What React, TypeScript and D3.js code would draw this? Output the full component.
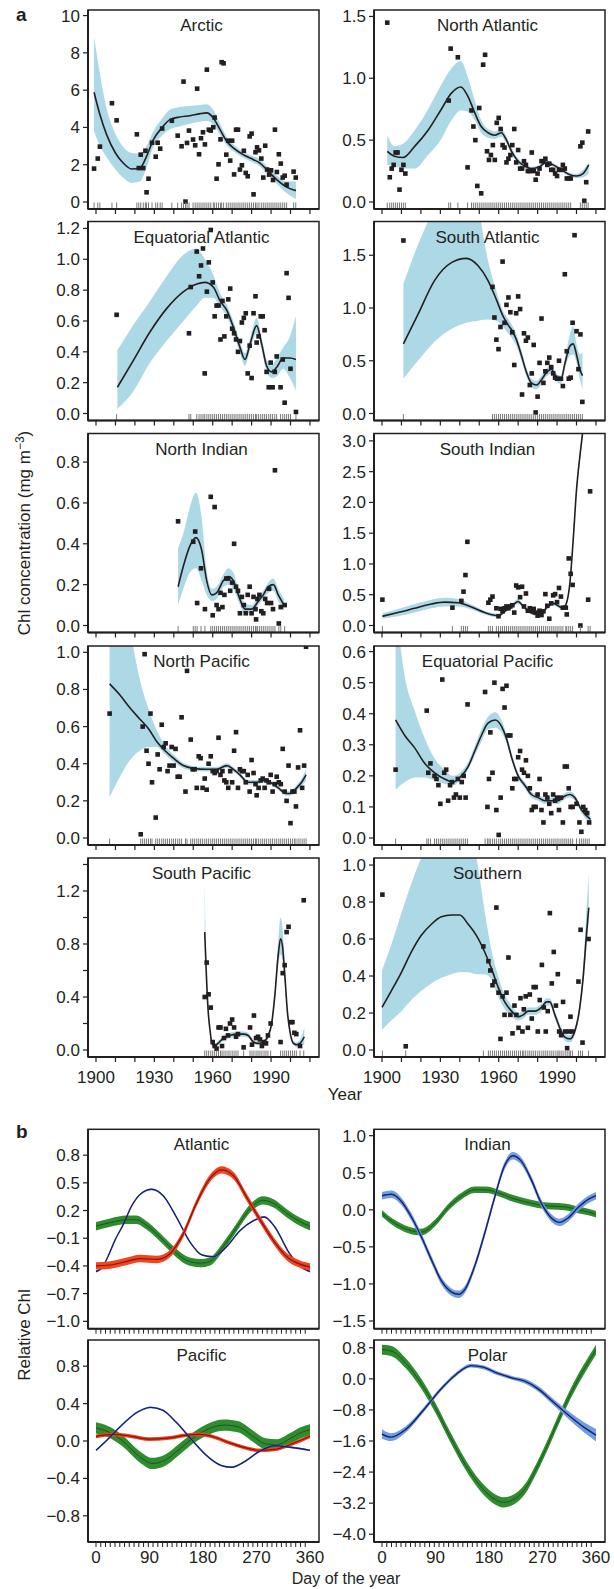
import React from 'react';
import * as d3 from 'd3';

const FONT = '"Liberation Sans", Arial, Helvetica, sans-serif';
const INK = '#231f20';
const BAND = '#add8e6';

// ---------- panel a: observed points [year, chl] ----------
const arcticPts = [[1899,1.79],[1900.9,2.33],[1902,2.97],[1908.2,5.3],[1910.6,4.38],[1921,3.63],[1922,1.82],[1923,2.54],[1924.3,1.82],[1925.4,2.75],[1926,0.52],[1927,1.25],[1928.8,3.18],[1930.7,2.43],[1931.7,3.18],[1933,2.86],[1934,3.94],[1939,4.36],[1942,3.56],[1944,2.99],[1945,6.46],[1946,0.02],[1946.8,3.17],[1947.8,3.83],[1949.9,3.35],[1951,3.04],[1952,6.08],[1953,2.56],[1954,3.42],[1955,3.74],[1956,3.09],[1957,7.1],[1958,3.88],[1959,3.83],[1960.3,4.01],[1961,4.53],[1962,1.25],[1963,2.02],[1964,3.36],[1964.6,7.5],[1965.6,7.44],[1967,2.54],[1968,3.29],[1969,2.22],[1970,3.29],[1971,1.48],[1972,3.88],[1973,3.88],[1974,1.74],[1975,1.97],[1976,2.75],[1977,1.56],[1978,1.38],[1979,3.52],[1980,3.67],[1981,0.41],[1982,2.67],[1982.8,2.93],[1983.8,2.77],[1985,2.33],[1986,1.31],[1987,3.02],[1988,1.74],[1989,1.47],[1990,1.7],[1991,1.18],[1992,3.88],[1993,1.61],[1994,2.56],[1995,2.06],[1996,1.31],[1997,1.41],[1998,0.93],[2001.6,1.63],[2002.7,1.31]];
const nAtlPts = [[1902.7,1.45],[1904,0.2],[1905,0.27],[1906,0.3],[1907,0.4],[1908,0.4],[1909,0.1],[1910,0.26],[1911,0.3],[1912,0.23],[1934.3,0.82],[1935.3,1.24],[1939,1.17],[1944,0.28],[1946,0.74],[1947,0.61],[1948,0.5],[1949,0.13],[1950,0.76],[1951,0.07],[1952,1.11],[1953,1.19],[1954,0.41],[1955,0.34],[1956,0.38],[1957,0.46],[1958,0.34],[1959,0.64],[1960,0.68],[1961,0.59],[1962,0.46],[1963,0.44],[1964,0.32],[1965,0.35],[1966,0.38],[1967,0.46],[1968,0.59],[1969,0.32],[1970,0.42],[1971,0.27],[1972,0.27],[1973,0.33],[1974,0.3],[1975,0.25],[1976,0.25],[1977,0.4],[1978,0.25],[1979,0.18],[1980,0.23],[1981,0.27],[1982,0.33],[1983,0.33],[1984,0.35],[1985,0.3],[1986,0.31],[1987,0.26],[1988,0.26],[1989,0.23],[1990,0.21],[1991,0.26],[1992,0.26],[1993,0.3],[1994,0.27],[1995,0.19],[1996,0.19],[1997,0.19],[2002,0.45],[2003,0.48],[2004,0.01],[2005,0.16],[2006,0.57]];
const eqAtlPts = [[1910.6,0.64],[1947.8,0.52],[1948.7,0.82],[1951.8,1.05],[1953,0.89],[1954,0.96],[1955,1.07],[1955.9,0.26],[1957,0.79],[1958,0.98],[1959,1.19],[1960,0.85],[1961,0.63],[1962,0.7],[1963,0.7],[1964,0.48],[1965,0.73],[1966,0.5],[1967,0.63],[1968,0.74],[1969,0.81],[1970,0.55],[1971,0.52],[1972,0.48],[1973,0.4],[1974,0.47],[1975,0.59],[1976,0.62],[1977,0.65],[1978,0.26],[1979,0.44],[1980,0.23],[1981,0.65],[1982,0.76],[1982.6,0.46],[1983.6,0.5],[1984.7,0.63],[1985.7,0.63],[1986.7,0.54],[1987.7,0.27],[1988.8,0.17],[1989.8,0.33],[1990.8,0.17],[1991.9,0.27],[1992.9,0.37],[1994.9,0.17],[1996,0.35],[1997,0.07],[1998,0.91],[1999,0.75],[2000,0.29],[2002.8,0.01]];
const sAtlPts = [[1911,1.64],[1956.8,1.2],[1957.8,0.91],[1958.8,0.7],[1959.9,0.61],[1960.9,0.82],[1962,1.44],[1963,0.86],[1964,1.03],[1965,1.1],[1966,0.96],[1967,0.77],[1968,0.46],[1969,0.95],[1970,1.11],[1971,0.99],[1972,0.18],[1973,0.76],[1974,0.69],[1975,0.72],[1976,0.27],[1977,0.38],[1978,0.65],[1979,0.01],[1980,0.16],[1981,0.48],[1982,0.9],[1983,0.29],[1984,0.4],[1985,0.48],[1986,0.53],[1987,0.44],[1988,0.38],[1989,0.34],[1990,0.33],[1991,0.5],[1992,0.33],[1993,0.26],[1994,1.32],[1995,0.59],[1996,0.33],[1997,0.34],[1998,0.86],[1999,1.69],[2000,0.78],[2001,0.42],[2002,0.75],[2003,0.11]];
const nIndPts = [[1942.2,0.51],[1950,0.41],[1951,0.46],[1952,0.11],[1954,0.28],[1956,0.08],[1959,0.63],[1960,0.05],[1961,0.58],[1962,0.1],[1963,0.08],[1964,0.16],[1965,0.09],[1966,0.15],[1967,0.23],[1968,0.23],[1969,0.17],[1970,0.21],[1971,0.4],[1972,0.19],[1973,0.17],[1974,0.06],[1975,0.14],[1976,0.1],[1977,0.06],[1978,0.15],[1979,0.19],[1980,0.06],[1981,0.14],[1982,0.08],[1982.3,0.03],[1983,0.13],[1984,0.15],[1985,0.07],[1986,0.06],[1987,0.13],[1988,0.11],[1989,0.18],[1990,0.11],[1991,0.08],[1992,0.76],[1994,0.01],[1995,0.09],[1997,0.1]];
const sIndPts = [[1900.2,0.42],[1936.2,0.29],[1940.8,0.4],[1941.9,0.55],[1942.9,0.82],[1943.9,1.36],[1954.7,0.37],[1955.7,0.42],[1956.8,0.47],[1958.8,0.28],[1959.9,0.15],[1961,0.27],[1962,0.23],[1963,0.28],[1964,0.31],[1965,0.28],[1966,0.31],[1967,0.33],[1968,0.21],[1969,0.65],[1970,0.62],[1971,0.46],[1972,0.63],[1973,0.31],[1974,0.52],[1975,0.24],[1976,0.28],[1977,0.24],[1978,0.27],[1979,0.21],[1980,0.16],[1981,0.24],[1982,0.17],[1983,0.23],[1984,0.51],[1985,0.32],[1986,0.11],[1987,0.36],[1988,0.49],[1989,0.51],[1990,0.38],[1991,0.61],[1992,0.47],[1993,0.29],[1994.5,0.29],[1995,0.18],[1996,1.09],[1997,0.84],[1998,0.66],[2002,0.0],[2006,0.42],[2007,2.18]];
const nPacPts = [[1907,0.67],[1923,0.02],[1924,0.6],[1925,0.99],[1926,0.47],[1927,0.4],[1928,0.67],[1928.8,0.3],[1930.7,0.11],[1931.7,0.45],[1932.7,0.37],[1933.8,0.61],[1934.8,0.49],[1935.8,0.51],[1936.8,0.36],[1937.8,0.39],[1938.9,0.49],[1939.9,0.39],[1940.9,0.48],[1942,0.33],[1943,0.33],[1944,0.65],[1946,0.25],[1946.8,0.9],[1948.7,0.53],[1949.7,0.37],[1950.7,0.37],[1951.8,0.27],[1952.8,0.44],[1953.8,0.43],[1954.8,0.27],[1955.9,0.32],[1956.9,0.26],[1957.9,0.4],[1959,0.44],[1960,0.36],[1961,0.35],[1962,0.36],[1963,0.54],[1964,0.34],[1965,0.36],[1966,0.31],[1967,0.3],[1968,0.27],[1969,0.36],[1970,0.3],[1971,0.47],[1972,0.57],[1973,0.27],[1974,0.37],[1975,0.36],[1976,0.36],[1977,0.3],[1978,0.34],[1979,0.25],[1980,0.42],[1981,0.35],[1982,0.29],[1982.6,0.23],[1983.6,0.27],[1984.7,0.31],[1985.7,0.32],[1986.7,0.27],[1987.7,0.31],[1988.8,0.3],[1989.8,0.34],[1990.8,0.25],[1991.9,0.29],[1992.9,0.33],[1994,0.3],[1995,0.29],[1996,0.48],[1997,0.25],[1998,0.2],[1999,0.39],[2000,0.08],[2001,0.25],[2002,0.25],[2002.8,0.17],[2003.9,0.38],[2004.9,0.58],[2006,0.27],[2007,0.39],[2008,1.03]];
const eqPacPts = [[1907,0.22],[1923,0.41],[1923.8,0.21],[1924.9,0.24],[1927,0.2],[1928,0.19],[1929,0.17],[1930,0.11],[1931,0.51],[1932,0.21],[1933,0.22],[1934,0.12],[1935,0.17],[1936,0.18],[1937,0.13],[1938,0.14],[1939,0.19],[1940,0.13],[1941,0.18],[1942,0.2],[1943,0.13],[1944,0.43],[1953,0.47],[1954.2,0.1],[1955,0.19],[1955.7,0.34],[1956.8,0.21],[1957.8,0.5],[1958.8,0.09],[1960,0.01],[1961,0.13],[1962,0.48],[1963,0.42],[1964,0.49],[1965,0.33],[1966,0.33],[1967,0.16],[1968,0.19],[1969,0.19],[1970,0.26],[1971,0.28],[1972,0.22],[1973,0.21],[1974,0.25],[1975,0.2],[1976,0.16],[1977,0.09],[1978,0.1],[1979,0.1],[1980,0.14],[1981,0.19],[1982,0.09],[1983,0.05],[1984,0.14],[1985,0.13],[1986,0.11],[1987,0.08],[1988,0.14],[1989,0.12],[1990,0.13],[1991,0.09],[1992,0.13],[1993,0.05],[1994,0.23],[1995,0.23],[1996,0.16],[1997,0.1],[1998,0.1],[2000,0.11],[2001.5,0.05],[2002.5,0.02],[2003.5,0.1],[2004.5,0.09],[2005.5,0.08],[2006.5,0.05]];
const sPacPts = [[1955.9,0.4],[1956.9,0.66],[1957.9,0.42],[1959,0.32],[1960,0.06],[1961,0.03],[1962,0.01],[1963,0.17],[1964,0.17],[1964.8,0.03],[1965.8,0.09],[1966.8,0.16],[1967.9,0.11],[1968.9,0.2],[1970,0.23],[1971,0.17],[1972,0.1],[1973,0.12],[1975.9,0.02],[1979.2,0.17],[1980.2,0.04],[1981.2,0.26],[1982.3,0.09],[1983.3,0.1],[1984.3,0.08],[1985.3,0.03],[1986.4,0.06],[1987.4,0.05],[1988.4,0.11],[1989.8,0.2],[1994.9,0.06],[1996,0.58],[1997,0.64],[1998,0.89],[1999,0.93],[2000,0.21],[2001,0.21],[2002,0.13],[2003,0.12],[2004.9,0.03],[2006.8,1.13]];
const southernPts = [[1900.2,0.84],[1912.2,0.02],[1952.1,0.56],[1954.7,0.48],[1955.7,0.43],[1956.8,0.35],[1957.8,0.37],[1958.8,0.77],[1959.9,0.31],[1960.9,0.06],[1962,0.29],[1963,0.19],[1964,0.31],[1965,0.5],[1966,0.19],[1967.1,0.09],[1968.1,0.24],[1969.1,0.19],[1970.2,0.12],[1971.2,0.28],[1972.2,0.1],[1972.9,0.22],[1973.9,0.29],[1975,0.12],[1976,0.3],[1977,0.17],[1978,0.34],[1979,0.34],[1980.1,0.1],[1981.1,0.27],[1982.2,0.46],[1983.2,0.23],[1984.2,0.1],[1985.2,0.21],[1986.3,0.74],[1987.3,0.36],[1988.3,0.53],[1989.4,0.24],[1990.4,0.41],[1991.1,0.1],[1992.1,0.08],[1993.1,0.26],[1994.2,0.1],[1995.2,0.01],[1996.2,0.1],[1996.9,0.18],[1997.9,0.1],[2001,0.37],[2002.1,0.65],[2003.1,0.04],[2006.2,0.6]];

// ---------- panel a: smooth fit [year, fit, lower, upper] ----------
const arcticFit = [[1899,5.89,3.79,8.86],[1902,4.69,3.0,6.9],[1905.5,3.6,2.4,5.0],[1910,2.63,1.75,3.65],[1914,2.09,1.3,2.95],[1918.3,1.77,1.02,2.63],[1922.6,1.82,1.1,2.6],[1926,2.45,1.85,3.0],[1929.5,3.35,2.95,3.8],[1933.8,3.97,3.55,4.45],[1938,4.42,3.9,4.95],[1943,4.56,4.05,5.1],[1948.3,4.63,4.2,5.15],[1953.5,4.74,4.3,5.2],[1957,4.78,4.35,5.25],[1960.3,4.51,4.15,4.95],[1963.8,3.88,3.6,4.2],[1967.2,3.26,3.05,3.5],[1970.6,2.9,2.72,3.1],[1975.7,2.54,2.38,2.7],[1981,2.27,2.1,2.45],[1984.3,2.09,1.9,2.3],[1987.7,1.74,1.55,1.95],[1992.9,1.2,0.98,1.42],[1998,0.8,0.48,1.1],[2002.8,0.61,0.15,1.1]];
const nAtlFit = [[1902.7,0.41,0.3,0.54],[1906.5,0.37,0.29,0.45],[1910.8,0.36,0.27,0.47],[1916.8,0.45,0.27,0.58],[1923.7,0.58,0.38,0.75],[1930.5,0.75,0.51,0.95],[1935.7,0.88,0.66,1.08],[1940.5,0.93,0.74,1.14],[1944.3,0.85,0.73,1.0],[1947.7,0.72,0.66,0.82],[1951,0.61,0.56,0.66],[1954.5,0.56,0.52,0.59],[1958,0.54,0.51,0.57],[1961.4,0.56,0.53,0.59],[1964,0.5,0.47,0.53],[1966.6,0.41,0.39,0.44],[1970,0.33,0.31,0.35],[1973.4,0.29,0.27,0.31],[1976.8,0.27,0.255,0.285],[1980.3,0.28,0.265,0.295],[1984.6,0.32,0.305,0.335],[1988,0.3,0.285,0.315],[1992.3,0.26,0.245,0.275],[1996.6,0.22,0.205,0.235],[2000,0.21,0.195,0.228],[2003.4,0.23,0.2,0.26],[2006.3,0.3,0.23,0.32]];
const eqAtlFit = [[1911,0.17,0.03,0.41],[1919,0.34,0.14,0.57],[1927.8,0.53,0.33,0.73],[1936.3,0.68,0.47,0.89],[1945,0.79,0.6,1.03],[1951.8,0.84,0.7,1.07],[1956,0.85,0.75,1.0],[1960.3,0.82,0.75,0.9],[1963.8,0.73,0.69,0.78],[1967.2,0.67,0.63,0.71],[1970.6,0.56,0.52,0.6],[1974,0.43,0.39,0.47],[1976.6,0.35,0.31,0.39],[1979.2,0.45,0.41,0.49],[1982.6,0.57,0.52,0.62],[1985.2,0.45,0.41,0.49],[1987.7,0.31,0.27,0.35],[1990.3,0.27,0.23,0.31],[1992.9,0.3,0.24,0.36],[1996.3,0.36,0.29,0.43],[1999.7,0.36,0.23,0.5],[2002.8,0.35,0.15,0.63]];
const sAtlFit = [[1911,0.66,0.33,1.23],[1918.5,0.94,0.5,1.6],[1927,1.26,0.68,1.95],[1935.7,1.43,0.8,2.25],[1943.4,1.47,0.86,2.3],[1949.4,1.4,0.88,1.95],[1954.5,1.26,0.89,1.45],[1958.8,1.08,0.88,1.16],[1962.3,0.92,0.82,0.97],[1964.8,0.84,0.76,0.9],[1967.4,0.77,0.7,0.82],[1969.1,0.7,0.64,0.75],[1971.7,0.55,0.5,0.6],[1974.3,0.39,0.35,0.43],[1976.8,0.29,0.25,0.33],[1979.4,0.27,0.23,0.31],[1982,0.32,0.28,0.36],[1984.6,0.39,0.35,0.43],[1987.1,0.42,0.38,0.46],[1989.7,0.34,0.3,0.38],[1992,0.32,0.28,0.36],[1994,0.47,0.42,0.52],[1996.6,0.64,0.55,0.75],[1998.3,0.66,0.56,0.83],[2000,0.56,0.48,0.66],[2001.7,0.42,0.33,0.56],[2003.1,0.36,0.23,0.58]];
const nIndFit = [[1942.2,0.19,0.1,0.38],[1944.9,0.29,0.18,0.45],[1948.3,0.39,0.26,0.58],[1951.4,0.43,0.28,0.65],[1954.3,0.37,0.22,0.53],[1956.9,0.22,0.15,0.27],[1959.5,0.15,0.12,0.18],[1962,0.16,0.13,0.19],[1965.5,0.22,0.19,0.25],[1968,0.24,0.2,0.28],[1970.6,0.22,0.18,0.26],[1973.2,0.15,0.12,0.18],[1976.6,0.08,0.06,0.11],[1980,0.08,0.06,0.1],[1983.5,0.12,0.1,0.14],[1986,0.15,0.13,0.17],[1988.6,0.19,0.16,0.21],[1991.2,0.2,0.17,0.23],[1993.7,0.15,0.12,0.18],[1996.7,0.1,0.07,0.13]];
const sIndFit = [[1900.2,0.15,0.11,0.2],[1908.2,0.21,0.15,0.27],[1916.8,0.28,0.21,0.35],[1925.4,0.35,0.28,0.42],[1932.2,0.38,0.31,0.45],[1939.1,0.37,0.31,0.43],[1946,0.3,0.26,0.34],[1952.8,0.21,0.18,0.24],[1959.7,0.16,0.13,0.19],[1963.1,0.23,0.2,0.26],[1966.6,0.31,0.28,0.34],[1970,0.39,0.35,0.43],[1972.6,0.31,0.28,0.34],[1975.1,0.24,0.21,0.27],[1978.6,0.19,0.16,0.22],[1982,0.21,0.18,0.24],[1985.4,0.31,0.28,0.34],[1988,0.36,0.33,0.39],[1990.6,0.32,0.29,0.35],[1993.1,0.28,0.25,0.31],[1994.9,0.37,0.33,0.41],[1996.6,0.69,0.64,0.74],[1998.3,1.39,1.33,1.45],[2000,2.2,2.13,2.27],[2001.7,2.74,2.66,2.82],[2003.1,3.12,3.04,3.2],[2004.5,3.5,3.4,3.6]];
const nPacFit = [[1907,0.83,0.22,1.6],[1912.3,0.77,0.33,1.4],[1917.5,0.7,0.42,1.12],[1922.6,0.64,0.47,0.85],[1926.9,0.59,0.49,0.7],[1931.2,0.52,0.49,0.58],[1935.5,0.47,0.45,0.5],[1939.8,0.43,0.41,0.45],[1944.9,0.39,0.375,0.405],[1950,0.375,0.362,0.388],[1956.9,0.37,0.358,0.382],[1962,0.37,0.358,0.382],[1967.2,0.39,0.378,0.402],[1970.6,0.37,0.358,0.382],[1974,0.34,0.328,0.352],[1978.3,0.3,0.288,0.312],[1982.6,0.3,0.288,0.312],[1986,0.31,0.298,0.322],[1989.5,0.3,0.288,0.312],[1993.7,0.27,0.258,0.282],[1997.7,0.24,0.228,0.252],[1999.7,0.24,0.228,0.252],[2003.2,0.27,0.255,0.285],[2005.7,0.3,0.28,0.32],[2008,0.34,0.31,0.37]];
const eqPacFit = [[1907,0.38,0.155,0.75],[1911.7,0.33,0.18,0.52],[1916.8,0.29,0.195,0.41],[1922,0.24,0.195,0.32],[1927.1,0.21,0.185,0.255],[1932.2,0.19,0.175,0.22],[1936.5,0.18,0.17,0.2],[1940.8,0.2,0.19,0.215],[1944.3,0.23,0.22,0.245],[1947.7,0.28,0.265,0.295],[1951.1,0.33,0.31,0.35],[1954.5,0.37,0.35,0.39],[1958.3,0.38,0.355,0.405],[1961.4,0.36,0.34,0.38],[1964,0.32,0.305,0.335],[1966.6,0.26,0.25,0.275],[1970,0.2,0.19,0.21],[1973.4,0.17,0.16,0.18],[1976.8,0.14,0.13,0.15],[1980.3,0.13,0.12,0.14],[1983.7,0.12,0.11,0.13],[1987.1,0.12,0.11,0.13],[1990.6,0.12,0.11,0.13],[1994,0.135,0.125,0.145],[1996.6,0.14,0.13,0.15],[1999.1,0.13,0.12,0.14],[2002.6,0.09,0.08,0.1],[2007.2,0.06,0.045,0.07]];
const sPacFit = [[1955.9,0.89,0.82,1.25],[1956.6,0.62,0.58,0.72],[1957.6,0.31,0.29,0.35],[1958.7,0.14,0.12,0.16],[1959.6,0.05,0.035,0.065],[1961,0.03,0.015,0.045],[1962.7,0.05,0.035,0.065],[1965.5,0.09,0.07,0.11],[1968.9,0.11,0.09,0.13],[1972.3,0.12,0.1,0.14],[1975.7,0.12,0.1,0.14],[1978.3,0.11,0.09,0.13],[1980.9,0.06,0.045,0.075],[1983.5,0.05,0.035,0.065],[1986,0.06,0.045,0.075],[1988.6,0.11,0.09,0.13],[1990.3,0.2,0.18,0.22],[1992,0.42,0.39,0.46],[1993.7,0.72,0.65,0.82],[1994.9,0.84,0.72,1.0],[1996,0.77,0.66,0.9],[1997.2,0.54,0.48,0.6],[1998.4,0.29,0.26,0.32],[1999.7,0.14,0.12,0.16],[2001.5,0.05,0.035,0.07],[2003.2,0.04,0.02,0.06],[2004.9,0.05,0.03,0.08],[2007.1,0.1,0.04,0.17]];
const southernFit = [[1900,0.23,0.11,0.43],[1904.8,0.32,0.16,0.57],[1910,0.42,0.21,0.74],[1915.1,0.53,0.27,0.9],[1920.2,0.62,0.32,1.04],[1925.4,0.68,0.36,1.15],[1930.5,0.72,0.39,1.22],[1935.7,0.73,0.41,1.26],[1940,0.73,0.42,1.25],[1944.3,0.68,0.42,1.16],[1948.5,0.62,0.41,1.04],[1952.8,0.53,0.41,0.75],[1956.3,0.44,0.38,0.54],[1959.7,0.34,0.29,0.4],[1963.1,0.26,0.22,0.3],[1966.6,0.21,0.18,0.24],[1970,0.18,0.16,0.2],[1972.6,0.19,0.17,0.21],[1975.1,0.21,0.19,0.23],[1978.6,0.21,0.19,0.23],[1982,0.23,0.21,0.25],[1984.6,0.26,0.24,0.28],[1986.3,0.26,0.24,0.28],[1988.9,0.19,0.17,0.21],[1991.4,0.12,0.1,0.14],[1994,0.07,0.05,0.09],[1996.6,0.06,0.04,0.08],[1999.1,0.1,0.08,0.12],[2001.7,0.23,0.2,0.26],[2003.4,0.39,0.35,0.44],[2005.1,0.62,0.55,0.75],[2006.3,0.77,0.7,0.96]];

const regionNames = ['Arctic', 'North Atlantic', 'Equatorial Atlantic', 'South Atlantic', 'North Indian', 'South Indian', 'North Pacific', 'Equatorial Pacific', 'South Pacific', 'Southern'];
const regionPts = [arcticPts, nAtlPts, eqAtlPts, sAtlPts, nIndPts, sIndPts, nPacPts, eqPacPts, sPacPts, southernPts];
const regionFit = [arcticFit, nAtlFit, eqAtlFit, sAtlFit, nIndFit, sIndFit, nPacFit, eqPacFit, sPacFit, southernFit];
const regionTicks = [
  [0, 2, 4, 6, 8, 10],
  [0, 0.5, 1, 1.5],
  [0, 0.2, 0.4, 0.6, 0.8, 1.0, 1.2],
  [0, 0.5, 1, 1.5],
  [0, 0.2, 0.4, 0.6, 0.8],
  [0, 0.5, 1, 1.5, 2, 2.5, 3],
  [0, 0.2, 0.4, 0.6, 0.8, 1.0],
  [0, 0.1, 0.2, 0.3, 0.4, 0.5, 0.6],
  [0, 0.2, 0.4, 0.6, 0.8, 1.0, 1.2, 1.4],
  [0, 0.2, 0.4, 0.6, 0.8, 1.0],
];
const regionLabelled = [null, null, null, null, null, null, null, null, [0, 0.4, 0.8, 1.2], null];
const decadeTicks = [1900, 1910, 1920, 1930, 1940, 1950, 1960, 1970, 1980, 1990, 2000, 2010];
const yearLabels = [1900, 1930, 1960, 1990];

// ---------- panel b: seasonal cycles [day, relative chl] ----------
const atlGreen = [[0,0.03],[24,0.07],[52,0.1],[68,0.1],[85,0.04],[108,-0.09],[130,-0.23],[152,-0.34],[175,-0.37],[192,-0.35],[214,-0.19],[237,0.02],[259,0.22],[281,0.31],[298,0.28],[321,0.17],[343,0.08],[360,0.03]];
const atlBlue = [[0,-0.46],[10,-0.42],[20,-0.3],[32,-0.12],[46,0.05],[60,0.25],[75,0.38],[94,0.43],[113,0.36],[136,0.12],[158,-0.14],[178,-0.28],[197,-0.3],[220,-0.19],[242,-0.02],[265,0.09],[283,0.13],[300,0.03],[326,-0.27],[349,-0.43],[360,-0.46]];
const atlRed = [[0,-0.4],[24,-0.39],[52,-0.35],[74,-0.32],[102,-0.33],[124,-0.27],[147,-0.05],[169,0.28],[192,0.55],[211,0.64],[231,0.58],[253,0.35],[276,0.1],[298,-0.12],[321,-0.3],[343,-0.38],[360,-0.41]];
const indBlue = [[0,0.19],[16,0.21],[32,0.12],[49,-0.09],[66,-0.36],[83,-0.67],[100,-0.96],[117,-1.11],[129,-1.14],[139,-1.08],[156,-0.76],[173,-0.31],[190,0.18],[206,0.59],[220,0.73],[234,0.66],[251,0.41],[268,0.09],[285,-0.11],[299,-0.17],[313,-0.11],[330,0.03],[347,0.14],[360,0.19]];
const indGreen = [[0,-0.05],[21,-0.18],[44,-0.27],[66,-0.3],[89,-0.18],[111,0.03],[133,0.18],[156,0.27],[175,0.27],[195,0.23],[218,0.16],[240,0.11],[262,0.07],[285,0.05],[307,0.04],[330,0.0],[347,-0.03],[360,-0.06]];
const pacGreen = [[0,0.14],[20,0.1],[45,0.0],[70,-0.15],[95,-0.24],[115,-0.21],[140,-0.09],[165,0.04],[190,0.13],[215,0.17],[240,0.15],[262,0.06],[285,-0.03],[305,-0.04],[325,0.02],[345,0.09],[360,0.12]];
const pacBlue = [[0,-0.1],[20,0.02],[45,0.18],[70,0.31],[92,0.36],[112,0.33],[135,0.2],[160,0.02],[185,-0.15],[210,-0.26],[228,-0.28],[250,-0.22],[275,-0.11],[300,-0.05],[330,-0.07],[360,-0.1]];
const pacRed = [[0,0.05],[30,0.07],[60,0.05],[90,0.02],[120,0.03],[150,0.06],[175,0.07],[200,0.04],[225,-0.02],[250,-0.07],[275,-0.1],[300,-0.09],[330,-0.03],[360,0.05]];
const polGreen = [[0,0.75],[15,0.72],[40,0.4],[65,-0.1],[90,-0.75],[115,-1.5],[140,-2.2],[165,-2.75],[185,-3.05],[205,-3.18],[220,-3.12],[240,-2.85],[260,-2.3],[280,-1.65],[300,-0.95],[320,-0.3],[340,0.25],[360,0.75]];
const polBlue = [[0,-1.42,0.12],[15,-1.5,0.1],[40,-1.3,0.08],[70,-0.8,0.06],[100,-0.25,0.05],[125,0.12,0.05],[150,0.34,0.05],[170,0.3,0.05],[195,0.14,0.05],[220,0.02,0.05],[240,-0.06,0.06],[262,-0.25,0.07],[290,-0.62,0.08],[315,-0.95,0.1],[340,-1.25,0.13],[360,-1.45,0.16]];

const basinNames = ['Atlantic', 'Indian', 'Pacific', 'Polar'];
const basinTicks = [
  [0.8, 0.5, 0.2, -0.1, -0.4, -0.7, -1.0],
  [1.0, 0.5, 0.0, -0.5, -1.0, -1.5],
  [0.8, 0.4, 0.0, -0.4, -0.8],
  [0.8, 0.0, -0.8, -1.6, -2.4, -3.2, -4.0],
];
const dayLabels = [0, 90, 180, 270, 360];

// ---------- layout ----------
const PANEL_W = 231;
const COL_X = [88, 374];
const ROW_TOPS = [10, 221.5, 433.5, 646, 858];
const PANEL_H = 199;
const ZERO_OFF = 192;
const YEAR_DOMAIN = [1900 - 8 / 1.945, 1900 - 8 / 1.945 + PANEL_W / 1.945];
const yMaxes = [10.3, 1.552, 1.245, 1.82, 0.94, 3.12, 1.034, 0.618, 1.449, 1.038];
const B_TOPS = [1129.3, 1340];
const B_H = [199.4, 202];
const DAY_DOMAIN = [-8 / 0.5944, -8 / 0.5944 + PANEL_W / 0.5944];
const basinDomains = [[-1.08, 1.08], [-1.604, 1.086], [-1.08, 1.08], [-4.2, 1.0]];

const GREEN = { band: '#2f8c2f', line: '#1d4f1d', lw: 0.9 };
const BLUE = { band: '#6e9de2', line: '#1b1d6e', lw: 1.4 };
const RED = { band: '#f2441d', line: '#861212', lw: 1.2 };

const basinSeries = [
  [{ rows: atlGreen, hw: 0.045, ...GREEN }, { rows: atlBlue, hw: 0.01, ...BLUE }, { rows: atlRed, hw: 0.04, ...RED }],
  [{ rows: indGreen, hw: 0.045, ...GREEN }, { rows: indBlue, hw: 0.05, ...BLUE }],
  [{ rows: pacGreen, hw: 0.06, ...GREEN }, { rows: pacRed, hw: 0.02, ...RED }, { rows: pacBlue, hw: 0.01, ...BLUE }],
  [{ rows: polGreen, hw: 0.13, ...GREEN }, { rows: polBlue, hw: 0.06, ...BLUE }],
];

const fmtTick = (v: number, i: number) => (i === 0 ? d3.format('d')(v) : d3.format('.1f')(v));
const fmtSigned = (v: number) => d3.format('.1f')(v).replace('-', '\u2212');

function RegionPanel({ idx }: { idx: number }) {
  const col = idx % 2;
  const row = Math.floor(idx / 2);
  const x0 = COL_X[col];
  const top = ROW_TOPS[row];
  const bottom = top + PANEL_H;
  const x = d3.scaleLinear().domain(YEAR_DOMAIN).range([x0, x0 + PANEL_W]);
  const y = d3.scaleLinear().domain([0, yMaxes[idx]]).range([top + ZERO_OFF, top]);
  const fit = regionFit[idx];
  const band = d3.area<number[]>().x(d => x(d[0])).y0(d => y(d[2])).y1(d => y(d[3])).curve(d3.curveMonotoneX);
  const line = d3.line<number[]>().x(d => x(d[0])).y(d => y(d[1])).curve(d3.curveMonotoneX);
  const clip = `clipA${idx}`;
  const labelled = regionLabelled[idx] || regionTicks[idx];
  return (
    <g>
      <defs>
        <clipPath id={clip}><rect x={x0} y={top} width={PANEL_W} height={PANEL_H} /></clipPath>
      </defs>
      <g clipPath={`url(#${clip})`}>
        <path d={band(fit) || ''} fill={BAND} />
        <text x={x0 + PANEL_W / 2 - 2} y={top + 21} textAnchor="middle" fontSize={17} fill={INK}>{regionNames[idx]}</text>
        <path d={line(fit) || ''} fill="none" stroke={INK} strokeWidth={1.6} />
        {regionPts[idx].map((d, i) => (
          <rect key={i} x={x(d[0]) - 2.3} y={y(d[1]) - 2.3} width={4.6} height={4.6} fill={INK} />
        ))}
        {regionPts[idx].map((d, i) => (
          <line key={'r' + i} x1={x(d[0])} x2={x(d[0])} y1={bottom - 0.5} y2={bottom - 6.5} stroke="#7a7a7a" strokeWidth={1} />
        ))}
      </g>
      <rect x={x0} y={top} width={PANEL_W} height={PANEL_H} fill="none" stroke={INK} strokeWidth={1.5} />
      <line x1={x0} x2={x0} y1={top} y2={bottom} stroke={INK} strokeWidth={2} />
      <line x1={x0} x2={x0 + PANEL_W} y1={bottom} y2={bottom} stroke={INK} strokeWidth={2} />
      {regionTicks[idx].map(t => (
        <line key={'yt' + t} x1={x0 - 5} x2={x0} y1={y(t)} y2={y(t)} stroke={INK} strokeWidth={1.2} />
      ))}
      {labelled.map(t => (
        <text key={'yl' + t} x={x0 - 8} y={y(t) + 6} textAnchor="end" fontSize={17} fill={INK}>{fmtTick(t, idx)}</text>
      ))}
      {decadeTicks.map(t => (
        <line key={'xt' + t} x1={x(t)} x2={x(t)} y1={bottom} y2={bottom + 5} stroke={INK} strokeWidth={1.2} />
      ))}
      {row === 4 && yearLabels.map(t => (
        <text key={'xl' + t} x={x(t)} y={bottom + 26} textAnchor="middle" fontSize={17} fill={INK}>{t}</text>
      ))}
    </g>
  );
}

function BasinPanel({ idx }: { idx: number }) {
  const col = idx % 2;
  const row = Math.floor(idx / 2);
  const x0 = COL_X[col];
  const top = B_TOPS[row];
  const h = B_H[row];
  const bottom = top + h;
  const x = d3.scaleLinear().domain(DAY_DOMAIN).range([x0, x0 + PANEL_W]);
  const y = d3.scaleLinear().domain(basinDomains[idx]).range([bottom, top]);
  const clip = `clipB${idx}`;
  return (
    <g>
      <defs>
        <clipPath id={clip}><rect x={x0} y={top} width={PANEL_W} height={h} /></clipPath>
      </defs>
      <g clipPath={`url(#${clip})`}>
        <text x={x0 + PANEL_W / 2 - 2} y={top + 21} textAnchor="middle" fontSize={17} fill={INK}>{basinNames[idx]}</text>
        {basinSeries[idx].map((s, i) => {
          const hw = (d: number[]) => (d.length > 2 ? d[2] : s.hw);
          const area = d3.area<number[]>().x(d => x(d[0])).y0(d => y(d[1] - hw(d))).y1(d => y(d[1] + hw(d))).curve(d3.curveMonotoneX);
          const ln = d3.line<number[]>().x(d => x(d[0])).y(d => y(d[1])).curve(d3.curveMonotoneX);
          return (
            <g key={i}>
              <path d={area(s.rows) || ''} fill={s.band} />
              <path d={ln(s.rows) || ''} fill="none" stroke={s.line} strokeWidth={s.lw} />
            </g>
          );
        })}
      </g>
      <rect x={x0} y={top} width={PANEL_W} height={h} fill="none" stroke={INK} strokeWidth={1.5} />
      <line x1={x0} x2={x0} y1={top} y2={bottom} stroke={INK} strokeWidth={2} />
      <line x1={x0} x2={x0 + PANEL_W} y1={bottom} y2={bottom} stroke={INK} strokeWidth={2} />
      {basinTicks[idx].map(t => (
        <line key={'yt' + t} x1={x0 - 5} x2={x0} y1={y(t)} y2={y(t)} stroke={INK} strokeWidth={1.2} />
      ))}
      {basinTicks[idx].map(t => (
        <text key={'yl' + t} x={x0 - 8} y={y(t) + 6} textAnchor="end" fontSize={17} fill={INK}>{fmtSigned(t)}</text>
      ))}
      {d3.range(0, 360, 8).map(t => (
        <line key={'xt' + t} x1={x(t)} x2={x(t)} y1={bottom} y2={bottom + 5} stroke={INK} strokeWidth={1} />
      ))}
      {row === 1 && dayLabels.map(t => (
        <text key={'xl' + t} x={x(t)} y={bottom + 21} textAnchor="middle" fontSize={17} fill={INK}>{t}</text>
      ))}
    </g>
  );
}

export default function App() {
  return (
    <svg width={614} height={1589} style={{ position: 'absolute', left: 0, top: 0, background: '#fff' }} fontFamily={FONT}>
      <text x={16} y={21} fontSize={19} fontWeight="bold" fill={INK}>a</text>
      <text x={16} y={1138} fontSize={19} fontWeight="bold" fill={INK}>b</text>
      {regionNames.map((_, i) => <RegionPanel key={i} idx={i} />)}
      {basinNames.map((_, i) => <BasinPanel key={i} idx={i} />)}
      <text transform="translate(30,533) rotate(-90)" textAnchor="middle" fontSize={17} fill={INK}>
        Chl concentration (mg m<tspan dy={-6} fontSize={12}>{'\u22123'}</tspan><tspan dy={6}>)</tspan>
      </text>
      <text transform="translate(30,1335) rotate(-90)" textAnchor="middle" fontSize={17} fill={INK}>Relative Chl</text>
      <text x={345} y={1100} textAnchor="middle" fontSize={17} fill={INK}>Year</text>
      <text x={346} y={1584} textAnchor="middle" fontSize={16} fill={INK}>Day of the year</text>
    </svg>
  );
}
